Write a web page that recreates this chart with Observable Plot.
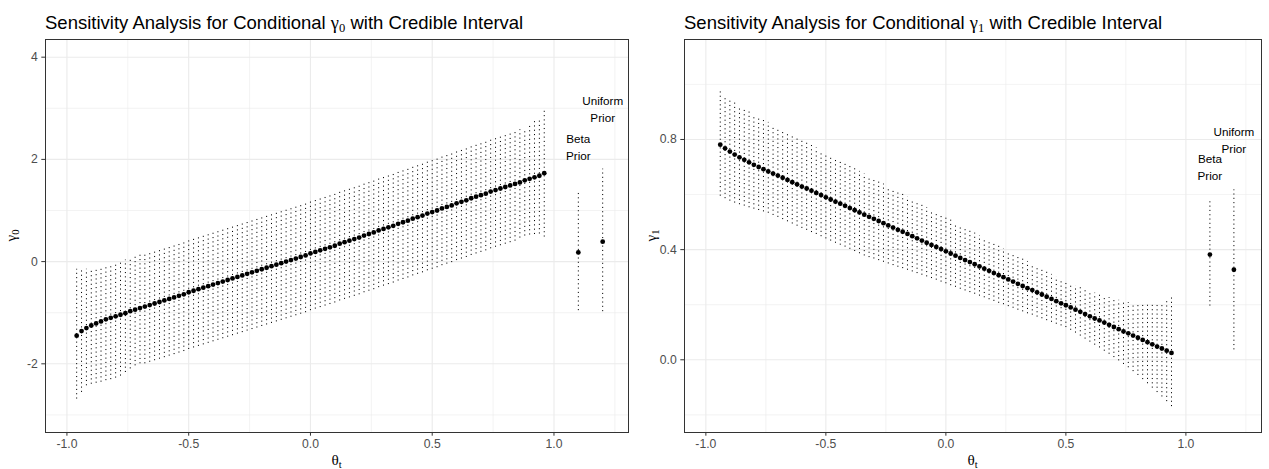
<!DOCTYPE html>
<html><head><meta charset="utf-8">
<script src="https://cdn.jsdelivr.net/npm/d3@7"></script>
<script src="https://cdn.jsdelivr.net/npm/@observablehq/plot@0.6"></script>
<style>
body{margin:0;background:#fff;}
#wrap{position:relative;width:1269px;height:469px;overflow:hidden;background:#fff;}
.panel{position:absolute;top:0;}
</style></head>
<body><div id="wrap"></div>
<script>
// ---------- data ----------
const theta0 = [-0.96,-0.94,-0.92,-0.90,-0.88,-0.86,-0.84,-0.82,-0.80,-0.78,
-0.76,-0.74,-0.72,-0.70,-0.68,-0.66,-0.64,-0.62,-0.60,-0.58,
-0.56,-0.54,-0.52,-0.50,-0.48,-0.46,-0.44,-0.42,-0.40,-0.38,
-0.36,-0.34,-0.32,-0.30,-0.28,-0.26,-0.24,-0.22,-0.20,-0.18,
-0.16,-0.14,-0.12,-0.10,-0.08,-0.06,-0.04,-0.02,0.00,0.02,
0.04,0.06,0.08,0.10,0.12,0.14,0.16,0.18,0.20,0.22,
0.24,0.26,0.28,0.30,0.32,0.34,0.36,0.38,0.40,0.42,
0.44,0.46,0.48,0.50,0.52,0.54,0.56,0.58,0.60,0.62,
0.64,0.66,0.68,0.70,0.72,0.74,0.76,0.78,0.80,0.82,
0.84,0.86,0.88,0.90,0.92,0.94,0.96];
const gamma0Mean = [-1.45,-1.36,-1.30,-1.25,-1.21,-1.17,-1.13,-1.10,-1.07,-1.04,
-1.01,-0.97,-0.94,-0.91,-0.88,-0.85,-0.82,-0.79,-0.76,-0.73,
-0.70,-0.67,-0.64,-0.60,-0.57,-0.54,-0.51,-0.48,-0.45,-0.42,
-0.39,-0.36,-0.33,-0.30,-0.27,-0.24,-0.21,-0.18,-0.15,-0.12,
-0.09,-0.06,-0.03,0.00,0.03,0.06,0.09,0.12,0.16,0.19,
0.22,0.25,0.28,0.31,0.35,0.38,0.41,0.44,0.47,0.51,
0.54,0.57,0.61,0.64,0.67,0.70,0.74,0.77,0.80,0.84,
0.87,0.90,0.94,0.97,1.00,1.04,1.07,1.10,1.14,1.17,
1.20,1.24,1.27,1.30,1.33,1.37,1.40,1.43,1.46,1.49,
1.52,1.55,1.59,1.62,1.65,1.68,1.73];
const gamma0Upper = [-0.15,-0.17,-0.15,-0.14,-0.13,-0.11,-0.09,-0.06,-0.03,0.00,
0.03,0.07,0.10,0.13,0.16,0.19,0.22,0.25,0.28,0.31,
0.34,0.37,0.40,0.44,0.47,0.50,0.53,0.56,0.59,0.62,
0.65,0.68,0.71,0.74,0.77,0.80,0.83,0.86,0.89,0.92,
0.95,0.98,1.01,1.04,1.07,1.10,1.13,1.16,1.20,1.23,
1.26,1.29,1.32,1.35,1.39,1.42,1.45,1.48,1.51,1.55,
1.58,1.61,1.65,1.68,1.71,1.74,1.78,1.81,1.84,1.88,
1.91,1.94,1.98,2.01,2.04,2.08,2.11,2.14,2.18,2.21,
2.24,2.28,2.31,2.34,2.37,2.41,2.44,2.47,2.50,2.53,
2.56,2.58,2.59,2.65,2.75,2.76,2.98];
const gamma0Lower = [-2.69,-2.56,-2.43,-2.40,-2.38,-2.36,-2.33,-2.31,-2.28,-2.24,
-2.17,-2.10,-2.04,-2.00,-2.00,-1.97,-1.94,-1.91,-1.88,-1.85,
-1.82,-1.79,-1.76,-1.72,-1.69,-1.66,-1.63,-1.60,-1.57,-1.54,
-1.51,-1.48,-1.45,-1.42,-1.39,-1.36,-1.33,-1.30,-1.27,-1.24,
-1.21,-1.18,-1.15,-1.12,-1.09,-1.06,-1.03,-1.00,-0.96,-0.93,
-0.90,-0.87,-0.84,-0.81,-0.77,-0.74,-0.71,-0.68,-0.65,-0.61,
-0.58,-0.55,-0.51,-0.48,-0.45,-0.42,-0.38,-0.35,-0.32,-0.28,
-0.25,-0.22,-0.18,-0.15,-0.12,-0.08,-0.05,-0.02,0.02,0.05,
0.08,0.12,0.15,0.18,0.21,0.25,0.28,0.31,0.34,0.37,
0.40,0.46,0.50,0.52,0.53,0.54,0.48];

const theta1 = [-0.94,-0.92,-0.90,-0.88,-0.86,-0.84,-0.82,-0.80,-0.78,-0.76,
-0.74,-0.72,-0.70,-0.68,-0.66,-0.64,-0.62,-0.60,-0.58,-0.56,
-0.54,-0.52,-0.50,-0.48,-0.46,-0.44,-0.42,-0.40,-0.38,-0.36,
-0.34,-0.32,-0.30,-0.28,-0.26,-0.24,-0.22,-0.20,-0.18,-0.16,
-0.14,-0.12,-0.10,-0.08,-0.06,-0.04,-0.02,0.00,0.02,0.04,
0.06,0.08,0.10,0.12,0.14,0.16,0.18,0.20,0.22,0.24,
0.26,0.28,0.30,0.32,0.34,0.36,0.38,0.40,0.42,0.44,
0.46,0.48,0.50,0.52,0.54,0.56,0.58,0.60,0.62,0.64,
0.66,0.68,0.70,0.72,0.74,0.76,0.78,0.80,0.82,0.84,
0.86,0.88,0.90,0.92,0.94];
const gamma1Mean = [0.781,0.768,0.756,0.745,0.735,0.726,0.717,0.708,0.700,0.692,
0.684,0.676,0.669,0.661,0.653,0.645,0.637,0.629,0.622,0.614,
0.606,0.598,0.590,0.582,0.574,0.567,0.559,0.551,0.543,0.535,
0.527,0.519,0.512,0.504,0.496,0.488,0.480,0.472,0.465,0.457,
0.449,0.441,0.433,0.425,0.417,0.410,0.402,0.394,0.386,0.378,
0.370,0.362,0.355,0.347,0.339,0.331,0.323,0.315,0.307,0.300,
0.292,0.284,0.276,0.268,0.260,0.253,0.245,0.237,0.229,0.221,
0.213,0.205,0.198,0.190,0.182,0.174,0.166,0.158,0.150,0.143,
0.135,0.127,0.119,0.111,0.103,0.096,0.088,0.080,0.072,0.064,
0.056,0.048,0.041,0.033,0.025];
const gamma1Upper = [0.974,0.959,0.946,0.933,0.922,0.911,0.901,0.890,0.881,0.871,
0.862,0.852,0.844,0.834,0.825,0.815,0.806,0.796,0.788,0.778,
0.769,0.759,0.750,0.740,0.731,0.722,0.713,0.703,0.694,0.684,
0.675,0.665,0.657,0.647,0.638,0.628,0.619,0.609,0.601,0.591,
0.582,0.572,0.563,0.553,0.544,0.535,0.526,0.516,0.507,0.497,
0.488,0.478,0.470,0.460,0.451,0.441,0.432,0.422,0.413,0.404,
0.395,0.385,0.376,0.366,0.357,0.348,0.339,0.329,0.320,0.310,
0.301,0.291,0.283,0.276,0.269,0.262,0.255,0.248,0.242,0.237,
0.231,0.226,0.221,0.216,0.211,0.208,0.204,0.201,0.199,0.198,
0.198,0.199,0.203,0.211,0.225];
const gamma1Lower = [0.594,0.585,0.576,0.569,0.563,0.558,0.552,0.547,0.542,0.537,
0.532,0.524,0.517,0.509,0.501,0.493,0.485,0.477,0.470,0.462,
0.455,0.447,0.439,0.431,0.423,0.416,0.409,0.401,0.393,0.385,
0.377,0.371,0.366,0.360,0.354,0.348,0.342,0.336,0.331,0.325,
0.319,0.313,0.307,0.301,0.295,0.289,0.282,0.276,0.269,0.263,
0.256,0.250,0.244,0.238,0.231,0.225,0.218,0.212,0.205,0.200,
0.193,0.187,0.180,0.174,0.167,0.162,0.155,0.149,0.142,0.136,
0.129,0.123,0.117,0.107,0.097,0.086,0.075,0.064,0.053,0.043,
0.031,0.020,0.008,-0.004,-0.017,-0.029,-0.043,-0.057,-0.072,-0.087,
-0.103,-0.119,-0.135,-0.152,-0.170];

// priors
const priorX = [1.1, 1.2];
const priorLabels = ["Beta\nPrior", "Uniform\nPrior"];
const prior0Mean = [0.18, 0.39];
const prior0Lower = [-0.96, -0.98];
const prior0Upper = [1.35, 1.81];
const prior0LabelY = [2.27, 3.0];
const prior1Mean = [0.382, 0.327];
const prior1Lower = [0.195, 0.036];
const prior1Upper = [0.581, 0.617];
const prior1LabelY = [0.704, 0.802];

// ticks
const xTicks = [-1.0, -0.5, 0.0, 0.5, 1.0];
const xMinor = [-0.75, -0.25, 0.25, 0.75, 1.25];
const xTickLabels = ["-1.0", "-0.5", "0.0", "0.5", "1.0"];
const y0Ticks = [-2, 0, 2, 4];
const y0Minor = [-3, -1, 1, 3];
const y0TickLabels = ["-2", "0", "2", "4"];
const y1Ticks = [0.0, 0.4, 0.8];
const y1Minor = [-0.2, 0.2, 0.6, 1.0];
const y1TickLabels = ["0.0", "0.4", "0.8"];

const titleMain = "Sensitivity Analysis for Conditional ";
const titleEnd = " with Credible Interval";

// ---------- drawing ----------
const FONT = "Liberation Sans, Arial, Helvetica, sans-serif";
const SERIF = "Liberation Serif, Times New Roman, serif";
const GRID = "#EBEBEB";

function panel(o) {
  const rows = o.theta.map((t, i) => ({t, m: o.mean[i], lo: o.lo[i], hi: o.hi[i]}));
  const pr = priorX.map((x, i) => ({t: x, m: o.pMean[i], lo: o.pLo[i], hi: o.pHi[i], ly: o.pLabY[i], lab: priorLabels[i]}));
  const xFmt = d => xTickLabels[xTicks.indexOf(d)];
  const yFmt = d => o.yLabels[o.yTicks.indexOf(d)];
  return Plot.plot({
    width: o.width, height: 469,
    marginLeft: o.mL, marginRight: o.mR, marginTop: 39, marginBottom: 37,
    x: {domain: o.xDomain},
    y: {domain: o.yDomain},
    style: {fontFamily: FONT, fontSize: "12.2px", background: "transparent", color: "#000"},
    marks: [
      Plot.ruleX(xMinor, {stroke: GRID, strokeWidth: 0.6}),
      Plot.ruleY(o.yMinor, {stroke: GRID, strokeWidth: 0.6}),
      Plot.ruleX(xTicks, {stroke: GRID, strokeWidth: 1.1}),
      Plot.ruleY(o.yTicks, {stroke: GRID, strokeWidth: 1.1}),
      Plot.ruleX(rows, {x: "t", y1: "lo", y2: "hi", stroke: "#000", strokeWidth: 1, strokeDasharray: "1.1,3.2"}),
      Plot.ruleX(pr, {x: "t", y1: "lo", y2: "hi", stroke: "#000", strokeWidth: 1, strokeDasharray: "1.1,3.2"}),
      Plot.dot(rows, {x: "t", y: "m", r: 2.4, fill: "#000", stroke: "none"}),
      Plot.dot(pr, {x: "t", y: "m", r: 2.4, fill: "#000", stroke: "none"}),
      Plot.text(pr, {x: "t", y: "ly", text: "lab", fontSize: 11.7, lineHeight: 1.45, fill: "#000", fontFamily: FONT}),
      Plot.frame({stroke: "#333333", strokeWidth: 1}),
      Plot.axisX(xTicks, {tickSize: 3.7, tickPadding: 3, tickFormat: xFmt, fill: "#4D4D4D", stroke: "#333333", label: null, fontSize: 12.2}),
      Plot.axisY(o.yTicks, {tickSize: 3.7, tickPadding: 4, tickFormat: yFmt, fill: "#4D4D4D", stroke: "#333333", label: null, fontSize: 12.2})
    ]
  });
}

const wrap = document.getElementById("wrap");
const p0 = panel({theta: theta0, mean: gamma0Mean, lo: gamma0Lower, hi: gamma0Upper,
  pMean: prior0Mean, pLo: prior0Lower, pHi: prior0Upper, pLabY: prior0LabelY,
  xDomain: [-1.088, 1.306], yDomain: [-3.344, 4.346], yTicks: y0Ticks, yMinor: y0Minor, yLabels: y0TickLabels,
  width: 634, mL: 45, mR: 6});
p0.classList.add("panel"); p0.style.left = "0px";
wrap.appendChild(p0);
const p1 = panel({theta: theta1, mean: gamma1Mean, lo: gamma1Lower, hi: gamma1Upper,
  pMean: prior1Mean, pLo: prior1Lower, pHi: prior1Upper, pLabY: prior1LabelY,
  xDomain: [-1.089, 1.315], yDomain: [-0.264, 1.163], yTicks: y1Ticks, yMinor: y1Minor, yLabels: y1TickLabels,
  width: 635, mL: 50, mR: 8});
p1.classList.add("panel"); p1.style.left = "634px";
wrap.appendChild(p1);

// titles and axis titles
const ov = d3.select(wrap).append("svg").attr("width", 1269).attr("height", 469)
  .style("position", "absolute").style("left", 0).style("top", 0).style("pointer-events", "none");

function title(x, sub) {
  const t = ov.append("text").attr("x", x).attr("y", 28.5).attr("font-size", 18.5).attr("font-family", FONT).attr("fill", "#000");
  t.append("tspan").text(titleMain);
  t.append("tspan").attr("font-family", SERIF).text("γ");
  t.append("tspan").attr("font-family", SERIF).attr("font-size", 12.6).attr("dy", 3).text(sub);
  t.append("tspan").attr("dy", -3).text(titleEnd);
}
title(45, "0");
title(684, "1");

function ylab(x, y, sub) {
  const t = ov.append("text").attr("transform", `translate(${x},${y}) rotate(-90)`).attr("text-anchor", "middle")
    .attr("font-size", 15.2).attr("font-family", SERIF).attr("fill", "#000");
  t.append("tspan").text("γ");
  t.append("tspan").attr("font-size", 10.6).attr("dy", 3).text(sub);
}
ylab(15.5, 235.5, "0");
ylab(655.5, 235.5, "1");

function xlab(x, y) {
  const t = ov.append("text").attr("x", x).attr("y", y).attr("text-anchor", "middle")
    .attr("font-size", 15.2).attr("font-family", SERIF).attr("fill", "#000");
  t.append("tspan").text("θ");
  t.append("tspan").attr("font-size", 10.6).attr("dy", 3).text("t");
}
xlab(336.5, 465);
xlab(972.5, 465);
</script>
</body></html>
